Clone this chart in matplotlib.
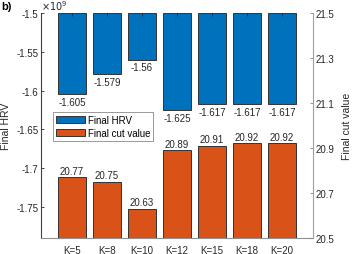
import matplotlib
matplotlib.use("Agg")
import matplotlib.pyplot as plt
import numpy as np

categories = ["K=5", "K=8", "K=10", "K=12", "K=15", "K=18", "K=20"]
hrv = [-1.605, -1.579, -1.56, -1.625, -1.617, -1.617, -1.617]   # x 1e9
cut = [20.77, 20.75, 20.63, 20.89, 20.91, 20.92, 20.92]
hrv_ticks = [-1.75, -1.7, -1.65, -1.6, -1.55, -1.5]
hrv_ticklabels = ["-1.75", "-1.7", "-1.65", "-1.6", "-1.55", "-1.5"]
cut_ticks = [20.5, 20.7, 20.9, 21.1, 21.3, 21.5]
cut_ticklabels = ["20.5", "20.7", "20.9", "21.1", "21.3", "21.5"]

plt.rcParams['font.family'] = ['Liberation Sans', 'DejaVu Sans']
FS = 7
blue = '#0072BD'
orange = '#D95319'
edge = '#333333'

fig = plt.figure(figsize=(3.52, 2.55), dpi=100)
ax = fig.add_axes([41/352, 16/255, 272/352, 225/255])
ax2 = ax.twinx()

x = np.arange(1, len(categories) + 1)
top = -1.5
hrv_arr = np.array(hrv)
bars1 = ax.bar(x, hrv_arr - top, bottom=top, width=0.8, color=blue,
               edgecolor=edge, linewidth=0.7, label='Final HRV')
base = 20.5
cut_arr = np.array(cut)
bars2 = ax2.bar(x, cut_arr - base, bottom=base, width=0.8, color=orange,
                edgecolor=edge, linewidth=0.7, label='Final cut value')

for xi, v in zip(x, hrv):
    ax.annotate(f"{v:g}", (xi, v), xytext=(0, -2), textcoords='offset points',
                ha='center', va='top', fontsize=FS, color='#262626')
for xi, v in zip(x, cut):
    ax2.annotate(f"{v:g}", (xi, v), xytext=(0, 1), textcoords='offset points',
                 ha='center', va='bottom', fontsize=FS, color='#262626')

ax.set_xlim(0.11, 7.89)
ax.set_ylim(-1.79, -1.5)
ax2.set_ylim(20.5, 21.5)
ax.set_xticks(x)
ax.set_xticklabels(categories, fontsize=FS, color='#262626')
ax.set_yticks(hrv_ticks)
ax.set_yticklabels(hrv_ticklabels, fontsize=FS, color='#262626')
ax2.set_yticks(cut_ticks)
ax2.set_yticklabels(cut_ticklabels, fontsize=FS, color='#262626')

ax.tick_params(axis='x', direction='in', length=2.5, width=0.6, top=True,
               bottom=True, color='#262626', pad=5)
ax.tick_params(axis='y', direction='in', length=2.5, width=0.6, color='#262626', pad=2)
ax2.tick_params(axis='y', direction='in', length=2.5, width=0.6, color='#808080', pad=2)

for a in (ax, ax2):
    a.spines['top'].set_visible(False)
ax.spines['left'].set_color('#404040')
ax.spines['left'].set_linewidth(0.8)
ax.spines['bottom'].set_color('#909090')
ax.spines['bottom'].set_linewidth(0.8)
ax.spines['right'].set_visible(False)
ax2.spines['left'].set_visible(False)
ax2.spines['bottom'].set_visible(False)
ax2.spines['right'].set_color('#a0a0a0')
ax2.spines['right'].set_linewidth(0.8)

ax.set_ylabel("Final HRV", fontsize=FS + 0.5, color='#262626', labelpad=4)
ax2.set_ylabel("Final cut value", fontsize=FS + 0.5, color='#262626', labelpad=5)

ax.text(0.0, 1.003, r"$\times10^9$", transform=ax.transAxes, ha='left', va='bottom',
        fontsize=FS, color='#262626')
fig.text(0.003, 0.972, "b)", ha='left', va='center', fontsize=8, fontweight='bold')

leg = ax2.legend([bars1, bars2], ['Final HRV', 'Final cut value'],
                 loc='lower left', bbox_to_anchor=(0.044, 0.431), fontsize=FS,
                 handlelength=3.0, handleheight=0.75, handletextpad=0.3,
                 labelspacing=0.35, borderpad=0.3, borderaxespad=0,
                 fancybox=False, framealpha=1, edgecolor='#999999')
leg.get_frame().set_linewidth(0.7)

fig.savefig("out.png", dpi=100)
